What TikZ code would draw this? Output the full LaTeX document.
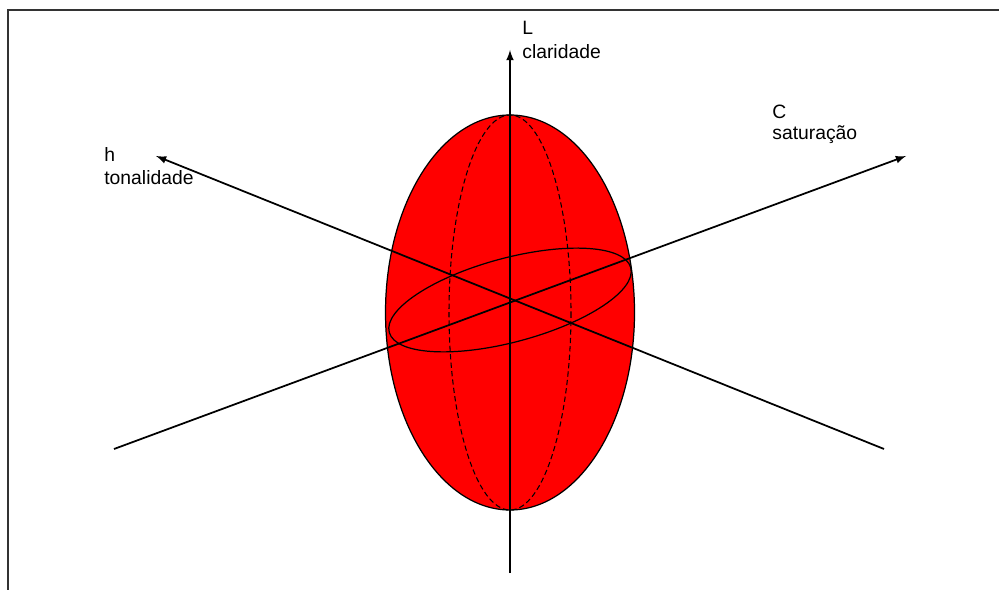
\documentclass[tikz,border=0pt]{standalone}
\usepackage{fontspec}
\setmainfont{Liberation Sans}
\usepackage{xcolor}
\usepackage{tikz}
\usetikzlibrary{arrows,positioning,calc}
\definecolor{solidred}{HTML}{FF0000}

\begin{document}
\begin{tikzpicture}[
  x=0.02cm, y=-0.02cm,
  frame/.style={draw=black!80, line width=0.9pt},
  solid/.style={fill=solidred, draw=black, line width=0.7pt},
  meridian/.style={draw=black, line width=0.6pt, dash pattern=on 3pt off 1.8pt},
  equator/.style={draw=black, line width=0.7pt},
  arrow/.style={->, >=latex, line width=1pt},
  lbl/.style={anchor=base west, inner sep=0pt, font=\fontsize{11}{13}\selectfont}
]
\useasboundingbox (0,0) rectangle (999,590);

% Frame
\draw[frame] (8,590) -- (8,10) -- (999,10);

% Ellipsoid
\coordinate (centre) at (510,312.5);
\coordinate (origin) at (510,300);
\draw[solid] (centre) ellipse [x radius=124.5, y radius=197.5];
\draw[meridian] (centre) ellipse [x radius=61, y radius=197.5];
\draw[equator, rotate around={15:(origin)}] (origin) ellipse [x radius=125, y radius=42];

% Axes
\coordinate (Lfoot) at (510,573);
\coordinate (Ltip) at (510,50);
\coordinate (hfoot) at (884,449);
\coordinate (htip) at (156,156);
\coordinate (Cfoot) at (114,449);
\coordinate (Ctip) at (906,156);
\draw[arrow] (Lfoot) -- (Ltip);
\draw[arrow] (hfoot) -- (htip);
\draw[arrow] (Cfoot) -- (Ctip);

% Labels
\node[lbl] (Lname) at (522,35) {L};
\node[lbl] (Lword) at (522,59) {claridade};
\node[lbl] (hname) at (104,162) {h};
\node[lbl] (hword) at (104,185) {tonalidade};
\node[lbl] (Cname) at (772,119) {C};
\node[lbl] (Cword) at (772,140) {saturação};

\end{tikzpicture}
\end{document}
